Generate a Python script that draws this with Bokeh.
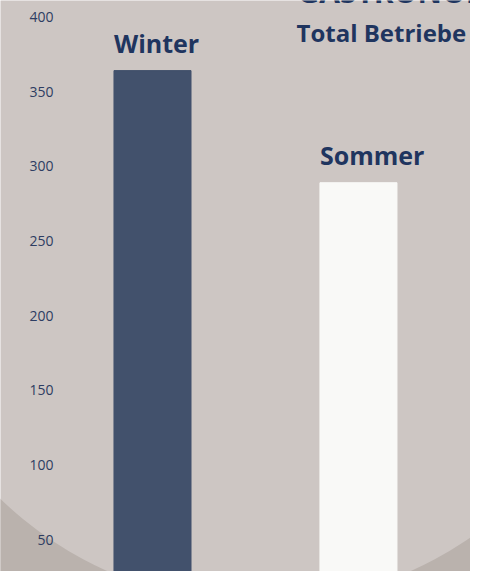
from bokeh.plotting import figure
from bokeh.models import Range1d, ColumnDataSource, Label
from bokeh.core.properties import value
from bokeh.embed import file_html
from bokeh.resources import INLINE

# ---- data ----
categories = ["Winter", "Sommer"]
betriebe = [364, 289]
bar_colors = ["#42516c", "#f9f9f7"]
tick_values = [50, 100, 150, 200, 250, 300, 350, 400]
tick_labels = [str(t) for t in tick_values]
title_text = "GASTRONOMIE"
subtitle_text = "Total Betriebe 2023"

# ---- style ----
TEXT = "#1f355f"
LIGHT = "#cdc6c3"
DARK = "#bab2ad"
W, H = 470, 571

xr = Range1d(-0.738, 1.544)
yr = Range1d(28.9, 410.9)

p = figure(width=W, height=H, x_range=xr, y_range=yr,
           output_backend="svg", toolbar_location=None,
           x_axis_type=None, y_axis_type=None, min_border=0)
p.outline_line_color = None
p.xgrid.visible = False
p.ygrid.visible = False
p.background_fill_color = LIGHT
p.border_fill_color = LIGHT

xs = list(range(len(categories)))
bar_w = 0.374
src = ColumnDataSource(dict(x=xs, top=betriebe, color=bar_colors, label=categories,
                            left=[x - bar_w / 2 for x in xs]))
p.vbar(x="x", top="top", bottom=0, width=bar_w, color="color", source=src)

# outside of the big background disc (drawn over the bar bottoms)
p.annulus(x=[0.517], y=[256.4], inner_radius=372, outer_radius=2000,
          inner_radius_units="screen", outer_radius_units="screen",
          fill_color=DARK, line_color=None)

# bar labels
p.text(x="left", y="top", text="label", source=src, y_offset=-28,
       text_align="left", text_baseline="alphabetic",
       text_font=value("Open Sans"), text_font_style="bold",
       text_font_size="25px", text_color=TEXT)

# y tick labels (no axis line)
tsrc = ColumnDataSource(dict(x=[xr.start] * len(tick_values), y=tick_values, t=tick_labels))
p.text(x="x", y="y", text="t", source=tsrc, x_offset=53,
       text_align="right", text_baseline="middle",
       text_font=value("Open Sans"), text_font_size="14px", text_color="#2d3d62")

# title / subtitle
p.add_layout(Label(x=297, y=H + 9, x_units="screen", y_units="screen", text=title_text,
                   text_font="Open Sans", text_font_style="bold", text_font_size="30px",
                   text_color=TEXT, text_baseline="alphabetic"))
p.add_layout(Label(x=296, y=H - 32, x_units="screen", y_units="screen", text=subtitle_text,
                   text_font="Open Sans", text_font_style="bold", text_font_size="24px",
                   text_color=TEXT, text_baseline="alphabetic"))

open("out.html", "w").write(file_html(p, INLINE))
